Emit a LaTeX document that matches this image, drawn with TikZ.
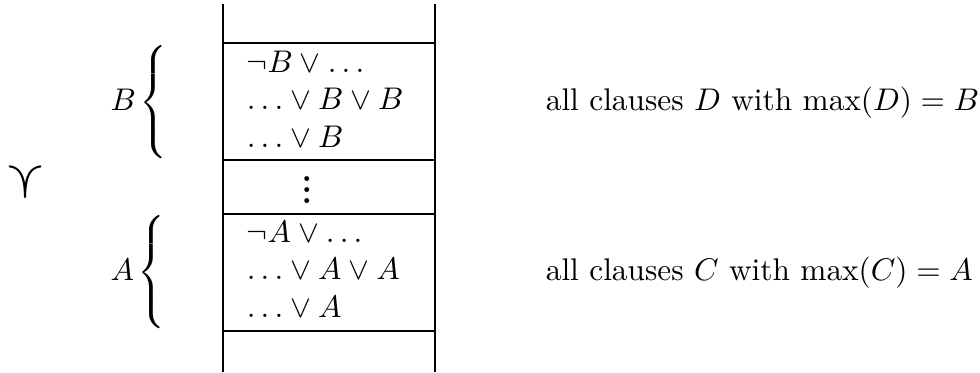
\documentclass[tikz,border=0pt]{standalone}
\usepackage{amsmath}
\usepackage{amssymb}
\usepackage{graphicx}
\usepackage{pgf,tikz}
\usetikzlibrary{positioning}
\newcommand{\clausedots}{\vbox{\baselineskip3.4pt\lineskiplimit0pt\hbox{\bfseries.}\hbox{\bfseries.}\hbox{\bfseries.}}}
\newcommand{\downsucc}{\scalebox{1.8}[1.7]{\rotatebox{-90}{$\succ$}}}
\tikzstyle{rand} = [line width=0.7pt]
\tikzstyle{clause} = [anchor=base west, inner sep=0pt]
\tikzstyle{order} = [inner sep=0pt]
\begin{document}
\begin{tikzpicture}
	\useasboundingbox (0,0) rectangle (11.0,4.18);
	% the two walls of the clause set
	\coordinate (lt) at (2.504,4.135);
	\coordinate (lb) at (2.504,0);
	\coordinate (rt) at (4.885,4.135);
	\coordinate (rb) at (4.885,0);
	\draw[rand] (lt) -- (lb);
	\draw[rand] (rt) -- (rb);
	\foreach \y in {3.697,2.383,1.777,0.463}
		\draw[rand] (2.504,\y) -- (4.885,\y);
	% clauses
	\node[clause] (Bset) at (2.763,2.945) {$\begin{array}{@{}l@{}}
			\neg B\vee\ldots\\
			\ldots\vee B\vee B\\
			\ldots\vee B
		\end{array}$};
	\node[anchor=base, inner sep=0pt] (dots) at (3.444,1.900) {\clausedots};
	\node[clause] (Aset) at (2.763,1.036) {$\begin{array}{@{}l@{}}
			\neg A\vee\ldots\\
			\ldots\vee A\vee A\\
			\ldots\vee A
		\end{array}$};
	% braces and captions
	\node[clause] (Bbrace) at (1.235,2.945) {$B\mkern-1mu\left\{\vphantom{\begin{array}{l}x\\x\\x\end{array}}\right.$};
	\node[clause] (Abrace) at (1.235,1.036) {$A\mkern-1mu\left\{\vphantom{\begin{array}{l}x\\x\\x\end{array}}\right.$};
	\node[clause] (Dtext) at (6.120,2.945) {all clauses $D$ with $\max(D)=B$};
	\node[clause] (Ctext) at (6.120,1.036) {all clauses $C$ with $\max(C)=A$};
	\node[order] (ord) at (0.286,2.136) {\downsucc};
\end{tikzpicture}
\end{document}
